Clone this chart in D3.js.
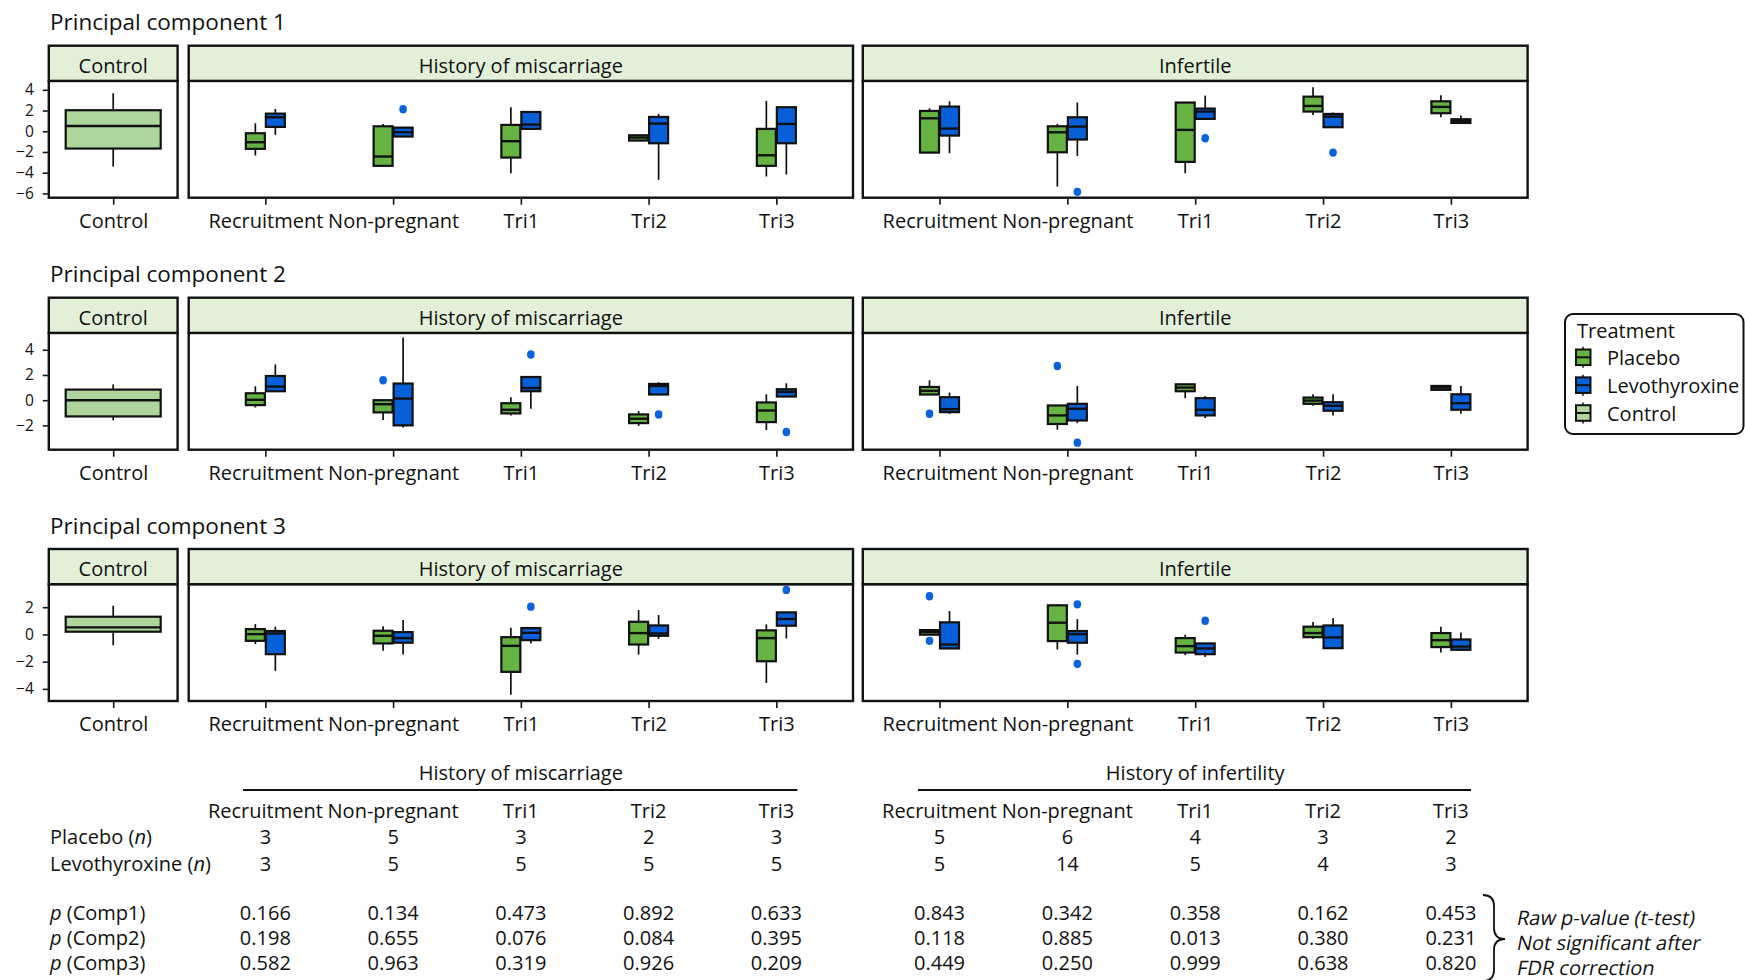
<!DOCTYPE html>
<html>
<head>
<meta charset="utf-8">
<script src="https://cdn.jsdelivr.net/npm/d3@7"></script>
<style>
  body { margin: 0; background: #fff; }
  svg { display: block; font-family: "Open Sans", "Noto Sans", sans-serif; }
</style>
</head>
<body>
<svg id="chart" width="1745" height="980"></svg>
<script>
// ---- data -------------------------------------------------------------
const categories = ["Recruitment", "Non-pregnant", "Tri1", "Tri2", "Tri3"];
const groupTitles = ["History of miscarriage", "Infertile"];
const treatments = ["Placebo", "Levothyroxine"];
const componentTitles = ["Principal component 1", "Principal component 2", "Principal component 3"];
const yTicks = [[-6, -4, -2, 0, 2, 4], [-2, 0, 2, 4], [-4, -2, 0, 2]];
const yDomains = [[-6.415, 4.86], [-3.93, 5.34], [-4.89, 3.69]];

// box statistics: [lower whisker, Q1, median, Q3, upper whisker], one row per category
const controlStats = [
  [-3.41, -1.67, 0.51, 2.03, 3.67],
  [-1.6, -1.29, 0.0, 0.84, 1.26],
  [-0.79, 0.2, 0.52, 1.3, 2.11]
];
const pc1MiscPlacebo = [[-2.35, -1.7, -1.06, -0.19, 0.77], [-3.34, -3.34, -2.44, 0.48, 0.71], [-4.05, -2.54, -0.96, 0.61, 2.32], [-0.9, -0.9, -0.61, -0.39, -0.39], [-4.37, -3.34, -2.32, 0.23, 2.93]];
const pc1MiscLevo    = [[-0.35, 0.42, 1.35, 1.7, 2.15], [-0.51, -0.51, -0.1, 0.35, 0.35], [0.23, 0.23, 0.64, 1.86, 1.86], [-4.69, -1.16, 0.74, 1.38, 1.67], [-4.18, -1.16, 0.71, 2.32, 2.32]];
const pc1InfPlacebo  = [[-2.06, -2.06, 1.25, 1.96, 2.22], [-5.34, -2.03, -0.1, 0.48, 0.71], [-4.05, -2.96, 0.13, 2.77, 2.77], [1.58, 1.9, 2.44, 3.34, 4.24], [1.35, 1.74, 2.35, 2.89, 3.47]];
const pc1InfLevo     = [[-2.12, -0.42, 0.26, 2.38, 2.89], [-2.38, -0.8, 0.45, 1.35, 2.77], [1.19, 1.19, 1.9, 2.19, 3.44], [0.39, 0.39, 1.41, 1.67, 1.8], [0.8, 0.8, 0.97, 1.16, 1.51]];

const pc2MiscPlacebo = [[-0.58, -0.39, 0.03, 0.55, 1.1], [-1.58, -0.97, -0.32, 0.0, 0.0], [-1.21, -1.05, -0.76, -0.24, 0.24], [-2.05, -1.82, -1.47, -1.13, -0.87], [-2.37, -1.74, -0.82, -0.18, 0.47]];
const pc2MiscLevo    = [[0.71, 0.71, 1.08, 1.92, 2.84], [-2.16, -2.0, 0.13, 1.32, 4.97], [-0.68, 0.71, 0.97, 1.84, 1.84], [0.45, 0.45, 1.13, 1.29, 1.42], [0.29, 0.29, 0.66, 0.87, 1.34]];
const pc2InfPlacebo  = [[0.45, 0.45, 0.74, 1.05, 1.58], [-2.34, -1.89, -1.21, -0.42, -0.42], [0.16, 0.71, 1.0, 1.26, 1.26], [-0.45, -0.29, -0.03, 0.21, 0.47], [0.82, 0.82, 1.0, 1.13, 1.13]];
const pc2InfLevo     = [[-1.08, -0.95, -0.71, 0.24, 0.61], [-1.82, -1.61, -0.68, -0.29, 1.13], [-1.42, -1.21, -0.76, 0.16, 0.32], [-1.21, -0.84, -0.45, -0.16, 0.47], [-1.08, -0.76, -0.24, 0.47, 1.13]];

const pc3MiscPlacebo = [[-0.71, -0.47, 0.02, 0.39, 0.76], [-1.2, -0.66, -0.1, 0.27, 0.61], [-4.43, -2.75, -0.84, -0.2, 0.49], [-1.48, -0.74, 0.1, 0.93, 1.79], [-3.57, -1.97, -0.27, 0.3, 0.74]];
const pc3MiscLevo    = [[-2.68, -1.45, 0.07, 0.25, 0.57], [-1.48, -0.61, -0.27, 0.17, 1.06], [-0.66, -0.42, 0.12, 0.47, 0.47], [-0.32, -0.1, 0.07, 0.66, 1.43], [-0.3, 0.64, 1.13, 1.62, 1.62]];
const pc3InfPlacebo  = [[-0.02, -0.02, 0.17, 0.32, 0.32], [-1.11, -0.49, 0.86, 2.14, 2.21], [-1.52, -1.33, -0.86, -0.27, -0.02], [-0.34, -0.2, 0.1, 0.57, 0.91], [-1.33, -0.93, -0.42, 0.1, 0.57]];
const pc3InfLevo     = [[-1.03, -1.03, -0.74, 0.89, 1.72], [-1.48, -0.61, 0.02, 0.25, 1.13], [-1.65, -1.45, -1.03, -0.66, -0.66], [-1.01, -1.01, -0.22, 0.66, 1.2], [-1.13, -1.13, -0.89, -0.37, 0.15]];

// outliers: [group index, category, treatment, value]
const pc1Outliers = [[0, "Non-pregnant", "Levothyroxine", 2.12], [1, "Non-pregnant", "Levothyroxine", -5.85], [1, "Tri1", "Levothyroxine", -0.68], [1, "Tri2", "Levothyroxine", -2.06]];
const pc2Outliers = [[0, "Non-pregnant", "Placebo", 1.58], [0, "Tri1", "Levothyroxine", 3.63], [0, "Tri2", "Levothyroxine", -1.13], [0, "Tri3", "Levothyroxine", -2.53],
                     [1, "Recruitment", "Placebo", -1.08], [1, "Non-pregnant", "Placebo", 2.71], [1, "Non-pregnant", "Levothyroxine", -3.37]];
const pc3Outliers = [[0, "Tri1", "Levothyroxine", 2.04], [0, "Tri3", "Levothyroxine", 3.27],
                     [1, "Recruitment", "Placebo", 2.8], [1, "Recruitment", "Placebo", -0.47], [1, "Non-pregnant", "Levothyroxine", 2.21], [1, "Non-pregnant", "Levothyroxine", -2.16], [1, "Tri1", "Levothyroxine", 1.01]];

// summary table
const tableHeaders = ["History of miscarriage", "History of infertility"];
const placeboNMisc = [3, 5, 3, 2, 3];
const placeboNInf = [5, 6, 4, 3, 2];
const levoNMisc = [3, 5, 5, 5, 5];
const levoNInf = [5, 14, 5, 4, 3];
const pValuesMisc = [[0.166, 0.134, 0.473, 0.892, 0.633], [0.198, 0.655, 0.076, 0.084, 0.395], [0.582, 0.963, 0.319, 0.926, 0.209]];
const pValuesInf = [[0.843, 0.342, 0.358, 0.162, 0.453], [0.118, 0.885, 0.013, 0.380, 0.231], [0.449, 0.250, 0.999, 0.638, 0.820]];
const braceNote = ["Raw p-value (t-test)", "Not significant after", "FDR correction"];

// ---- layout & style ---------------------------------------------------
const FONT = '"Open Sans", "Noto Sans", sans-serif';
const colors = { Placebo: "#66b343", Levothyroxine: "#0760d8", Control: "#aed69c" };
const outlierColor = "#0a62dc";
const stripFill = "#e2f0da";
const ink = "#111";
const FS = 20;        // general text size
const FS_Y = 15.5;    // y-axis tick labels

const controlX = [48.8, 177.6];
const groupX = [[188.7, 853], [862.8, 1527.6]];
const rowTops = [45.7, 297.7, 549];
const stripH = 35.2, plotH = 116.8;
const boxW = 19, dodge = 10, controlBoxW = 95;

const statsByRow = [
  [[pc1MiscPlacebo, pc1MiscLevo], [pc1InfPlacebo, pc1InfLevo]],
  [[pc2MiscPlacebo, pc2MiscLevo], [pc2InfPlacebo, pc2InfLevo]],
  [[pc3MiscPlacebo, pc3MiscLevo], [pc3InfPlacebo, pc3InfLevo]]
];
const outliersByRow = [pc1Outliers, pc2Outliers, pc3Outliers];

const svg = d3.select("#chart");
const xScales = groupX.map(r => d3.scalePoint().domain(categories).range(r).padding(0.6));

function drawBox(g, cx, w, s, fill, y) {
  const [lo, q1, med, q3, hi] = s;
  g.append("line").attr("x1", cx).attr("x2", cx).attr("y1", y(hi)).attr("y2", y(q3))
    .attr("stroke", ink).attr("stroke-width", 1.7);
  g.append("line").attr("x1", cx).attr("x2", cx).attr("y1", y(q1)).attr("y2", y(lo))
    .attr("stroke", ink).attr("stroke-width", 1.7);
  g.append("rect").attr("x", cx - w / 2).attr("width", w)
    .attr("y", y(q3)).attr("height", Math.max(0.5, y(q1) - y(q3)))
    .attr("fill", fill).attr("stroke", ink).attr("stroke-width", 2.2);
  g.append("line").attr("x1", cx - w / 2).attr("x2", cx + w / 2).attr("y1", y(med)).attr("y2", y(med))
    .attr("stroke", ink).attr("stroke-width", 2.4);
}

function styleAxis(a, size) {
  a.attr("font-family", null).attr("font-size", null);
  a.select(".domain").remove();
  a.selectAll(".tick line").attr("stroke", ink).attr("stroke-width", 1.6);
  a.selectAll(".tick text").attr("fill", ink)
    .style("font-size", size + "px").style("font-family", FONT);
}

function drawStrip(x0, x1, top, label) {
  svg.append("rect").attr("x", x0).attr("y", top).attr("width", x1 - x0).attr("height", stripH)
    .attr("fill", stripFill).attr("stroke", ink).attr("stroke-width", 2.4);
  svg.append("text").attr("x", (x0 + x1) / 2).attr("y", top + 27.3)
    .attr("text-anchor", "middle").style("font-size", FS + "px").attr("fill", ink).text(label);
}

rowTops.forEach((top, r) => {
  const plotTop = top + stripH, plotBottom = plotTop + plotH;
  const y = d3.scaleLinear().domain(yDomains[r]).range([plotBottom, plotTop]);

  svg.append("text").attr("x", 50).attr("y", top - 15.5)
    .style("font-size", "22.5px").attr("fill", ink).text(componentTitles[r]);

  // control panel
  const cg = svg.append("g");
  const cx = (controlX[0] + controlX[1]) / 2;
  drawBox(cg, cx, controlBoxW, controlStats[r], colors.Control, y);
  svg.append("rect").attr("x", controlX[0]).attr("y", plotTop).attr("width", controlX[1] - controlX[0]).attr("height", plotH)
    .attr("fill", "none").attr("stroke", ink).attr("stroke-width", 2.4);
  drawStrip(controlX[0], controlX[1], top, "Control");

  const ya = svg.append("g").attr("transform", `translate(${controlX[0] - 1},0)`)
    .call(d3.axisLeft(y).tickValues(yTicks[r]).tickSize(5).tickPadding(9));
  styleAxis(ya, FS_Y);

  const cxScale = d3.scalePoint().domain(["Control"]).range(controlX).padding(0.5);
  const cxa = svg.append("g").attr("transform", `translate(0,${plotBottom + 1})`)
    .call(d3.axisBottom(cxScale).tickSize(6).tickPadding(9));
  styleAxis(cxa, FS);

  // grouped panels
  groupX.forEach((gx, gi) => {
    const x = xScales[gi];
    const g = svg.append("g");
    treatments.forEach((t, ti) => {
      const stats = statsByRow[r][gi][ti];
      categories.forEach((c, ci) => {
        drawBox(g, x(c) + (ti === 0 ? -dodge : dodge), boxW, stats[ci], colors[t], y);
      });
    });
    outliersByRow[r].filter(o => o[0] === gi).forEach(o => {
      g.append("ellipse")
        .attr("cx", x(o[1]) + (o[2] === "Placebo" ? -dodge : dodge))
        .attr("cy", y(o[3])).attr("rx", 3.8).attr("ry", 4.2)
        .attr("fill", outlierColor);
    });
    svg.append("rect").attr("x", gx[0]).attr("y", plotTop).attr("width", gx[1] - gx[0]).attr("height", plotH)
      .attr("fill", "none").attr("stroke", ink).attr("stroke-width", 2.4);
    drawStrip(gx[0], gx[1], top, groupTitles[gi]);

    const xa = svg.append("g").attr("transform", `translate(0,${plotBottom + 1})`)
      .call(d3.axisBottom(x).tickSize(6).tickPadding(9));
    styleAxis(xa, FS);
  });
});

// ---- legend -------------------------------------------------------------
const lg = svg.append("g");
lg.append("rect").attr("x", 1565).attr("y", 314).attr("width", 178.5).attr("height", 120).attr("rx", 8)
  .attr("fill", "#fff").attr("stroke", ink).attr("stroke-width", 2);
lg.append("text").attr("x", 1577).attr("y", 337.5).style("font-size", FS + "px").attr("fill", ink).text("Treatment");
const legendItems = ["Placebo", "Levothyroxine", "Control"];
const legendY = d3.scalePoint().domain(legendItems).range([357.3, 413]);
legendItems.forEach(k => {
  const cy = legendY(k);
  lg.append("line").attr("x1", 1583).attr("x2", 1583).attr("y1", cy - 10.5).attr("y2", cy + 10.5)
    .attr("stroke", ink).attr("stroke-width", 1.5);
  lg.append("rect").attr("x", 1576).attr("y", cy - 7.8).attr("width", 14.5).attr("height", 15.6)
    .attr("fill", colors[k]).attr("stroke", ink).attr("stroke-width", 2);
  lg.append("line").attr("x1", 1576).attr("x2", 1590.5).attr("y1", cy).attr("y2", cy)
    .attr("stroke", ink).attr("stroke-width", 2);
  lg.append("text").attr("x", 1607).attr("y", cy + 7.5).style("font-size", FS + "px").attr("fill", ink).text(k);
});

// ---- summary table --------------------------------------------------------
const tb = svg.append("g").style("font-size", FS + "px").attr("fill", ink);
const ruleX = [[243, 797.4], [918, 1471]];
const nRowY = [844, 870.7];
const pRowY = [919.5, 944.5, 969.5];
groupX.forEach((gx, gi) => {
  const x = xScales[gi];
  tb.append("text").attr("x", (gx[0] + gx[1]) / 2).attr("y", 779.5).attr("text-anchor", "middle").text(tableHeaders[gi]);
  tb.append("line").attr("x1", ruleX[gi][0]).attr("x2", ruleX[gi][1]).attr("y1", 790).attr("y2", 790)
    .attr("stroke", ink).attr("stroke-width", 2);
  const nRows = gi === 0 ? [placeboNMisc, levoNMisc] : [placeboNInf, levoNInf];
  const pRows = gi === 0 ? pValuesMisc : pValuesInf;
  categories.forEach((c, ci) => {
    tb.append("text").attr("x", x(c)).attr("y", 817.5).attr("text-anchor", "middle").text(c);
    nRows.forEach((row, ri) => {
      tb.append("text").attr("x", x(c)).attr("y", nRowY[ri]).attr("text-anchor", "middle").text(row[ci]);
    });
    pRows.forEach((row, ri) => {
      tb.append("text").attr("x", x(c)).attr("y", pRowY[ri]).attr("text-anchor", "middle").text(d3.format(".3f")(row[ci]));
    });
  });
});

// row labels with italic symbols
function rowLabel(yPos, parts) {
  const t = tb.append("text").attr("x", 50).attr("y", yPos);
  parts.forEach(([s, it]) => t.append("tspan").style("font-style", it ? "italic" : "normal").text(s));
}
rowLabel(nRowY[0], [["Placebo (", false], ["n", true], [")", false]]);
rowLabel(nRowY[1], [["Levothyroxine (", false], ["n", true], [")", false]]);
["Comp1", "Comp2", "Comp3"].forEach((c, i) => {
  rowLabel(pRowY[i], [["p", true], [` (${c})`, false]]);
});

// brace and slanted note
tb.append("path")
  .attr("d", "M1483,895 Q1494,895 1494,906 L1494,928 Q1494,939 1505,939 Q1494,939 1494,950 L1494,970 Q1494,981 1483,981")
  .attr("fill", "none").attr("stroke", ink).attr("stroke-width", 1.8);
const noteY = [924.5, 949.5, 974.5];
braceNote.forEach((s, i) => {
  tb.append("text").attr("transform", `translate(1516,${noteY[i]}) skewX(-11)`).text(s);
});
</script>
</body>
</html>
